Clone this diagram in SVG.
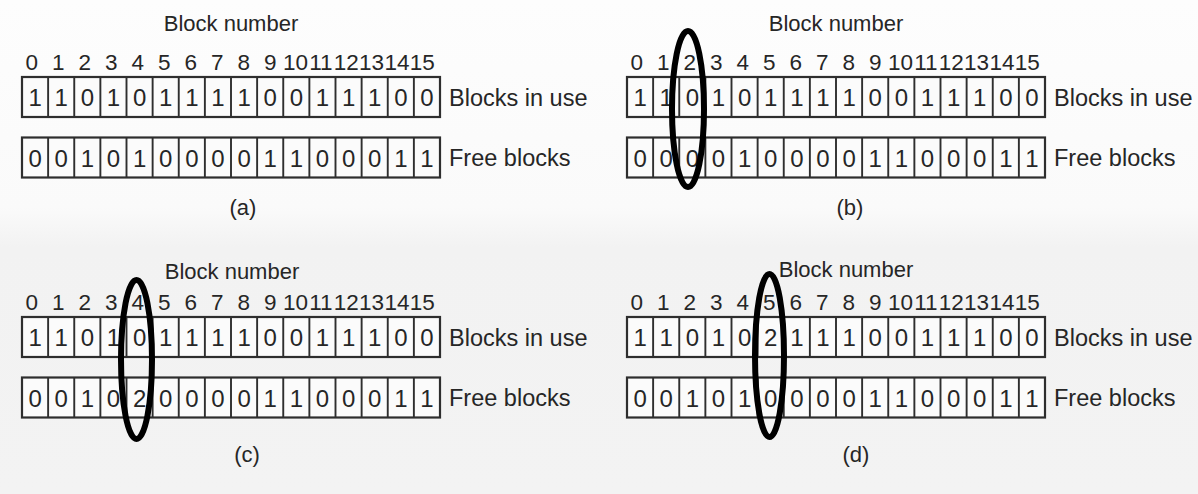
<svg xmlns="http://www.w3.org/2000/svg" width="1198" height="494" viewBox="0 0 1198 494">
<style>
text{font-family:"Liberation Sans",Arial,sans-serif;fill:#262626}
.dg{font-size:24px;text-anchor:middle}
.lb{font-size:22.5px;text-anchor:middle}
.side{font-size:23.5px}
.title{font-size:22px;text-anchor:middle}
.cap{font-size:22px;text-anchor:middle}
.box{fill:#fbfbfb;stroke:#2e2e2e;stroke-width:2.2}
.div{stroke:#2e2e2e;stroke-width:1.9;fill:none}
.hl{fill:none;stroke:#000;stroke-width:6}
</style>
<defs>
<linearGradient id="bg" x1="0" y1="0" x2="0" y2="1">
<stop offset="0" stop-color="#fdfdfd"/>
<stop offset="0.42" stop-color="#fafafa"/>
<stop offset="0.5" stop-color="#f2f2f2"/>
<stop offset="1" stop-color="#f3f3f3"/>
</linearGradient>
<g id="frame">
<rect class="box" x="0" y="0" width="418" height="40"/>
<path class="div" d="M26.125 0V40M52.25 0V40M78.375 0V40M104.5 0V40M130.625 0V40M156.75 0V40M182.875 0V40M209 0V40M235.125 0V40M261.25 0V40M287.375 0V40M313.5 0V40M339.625 0V40M365.75 0V40M391.875 0V40"/>
</g>
<g id="labels">
<text class="lb" y="-7"><tspan x="9.7">0</tspan><tspan x="36.2">1</tspan><tspan x="62.7">2</tspan><tspan x="89.2">3</tspan><tspan x="115.7">4</tspan><tspan x="142.2">5</tspan><tspan x="168.7">6</tspan><tspan x="195.2">7</tspan><tspan x="221.7">8</tspan><tspan x="248.2">9</tspan><tspan x="273.6">10</tspan><tspan x="298.9">11</tspan><tspan x="324.3">12</tspan><tspan x="349.6">13</tspan><tspan x="374.9">14</tspan><tspan x="400.3">15</tspan></text>
</g>
<g id="sides">
<text class="side" x="427" y="28.5">Blocks in use</text>
<text class="side" x="427" y="88.5">Free blocks</text>
</g>
</defs>
<rect width="1198" height="494" fill="url(#bg)"/>

<g id="panel-a" transform="translate(22,77)">
<text class="title" x="209" y="-46">Block number</text>
<use href="#labels"/>
<g id="a-in-use"><use href="#frame"/>
<text class="dg" y="29" x="13.06 39.19 65.31 91.44 117.56 143.69 169.81 195.94 222.06 248.19 274.31 300.44 326.56 352.69 378.81 404.94">1101011110011100</text></g>
<g id="a-free" transform="translate(0,60.5)"><use href="#frame"/>
<text class="dg" y="29" x="13.06 39.19 65.31 91.44 117.56 143.69 169.81 195.94 222.06 248.19 274.31 300.44 326.56 352.69 378.81 404.94">0010100001100011</text></g>
<use href="#sides"/>
<text class="cap" x="221" y="138">(a)</text>
</g>

<g id="panel-b" transform="translate(627,77)">
<text class="title" x="209" y="-46">Block number</text>
<use href="#labels"/>
<g id="b-in-use"><use href="#frame"/>
<text class="dg" y="29" x="13.06 39.19 65.31 91.44 117.56 143.69 169.81 195.94 222.06 248.19 274.31 300.44 326.56 352.69 378.81 404.94">1101011110011100</text></g>
<g id="b-free" transform="translate(0,60.5)"><use href="#frame"/>
<text class="dg" y="29" x="13.06 39.19 65.31 91.44 117.56 143.69 169.81 195.94 222.06 248.19 274.31 300.44 326.56 352.69 378.81 404.94">0000100001100011</text></g>
<use href="#sides"/>
<text class="cap" x="223" y="138">(b)</text>
</g>

<g id="panel-c" transform="translate(22,317)">
<text class="title" x="210" y="-38">Block number</text>
<use href="#labels"/>
<g id="c-in-use"><use href="#frame"/>
<text class="dg" y="29" x="13.06 39.19 65.31 91.44 117.56 143.69 169.81 195.94 222.06 248.19 274.31 300.44 326.56 352.69 378.81 404.94">1101011110011100</text></g>
<g id="c-free" transform="translate(0,60.5)"><use href="#frame"/>
<text class="dg" y="29" x="13.06 39.19 65.31 91.44 117.56 143.69 169.81 195.94 222.06 248.19 274.31 300.44 326.56 352.69 378.81 404.94">0010200001100011</text></g>
<use href="#sides"/>
<text class="cap" x="225" y="145">(c)</text>
</g>

<g id="panel-d" transform="translate(627,317)">
<text class="title" x="219" y="-40">Block number</text>
<use href="#labels"/>
<g id="d-in-use"><use href="#frame"/>
<text class="dg" y="29" x="13.06 39.19 65.31 91.44 117.56 143.69 169.81 195.94 222.06 248.19 274.31 300.44 326.56 352.69 378.81 404.94">1101021110011100</text></g>
<g id="d-free" transform="translate(0,60.5)"><use href="#frame"/>
<text class="dg" y="29" x="13.06 39.19 65.31 91.44 117.56 143.69 169.81 195.94 222.06 248.19 274.31 300.44 326.56 352.69 378.81 404.94">0010100001100011</text></g>
<use href="#sides"/>
<text class="cap" x="229" y="145">(d)</text>
</g>

<g id="connectors">
<ellipse id="hl-b" class="hl" cx="688" cy="109" rx="16" ry="78"/>
<ellipse id="hl-c" class="hl" cx="136.5" cy="359.5" rx="15.5" ry="79.5"/>
<ellipse id="hl-d" class="hl" cx="769.5" cy="355.5" rx="14.5" ry="81.5"/>
</g>
</svg>
